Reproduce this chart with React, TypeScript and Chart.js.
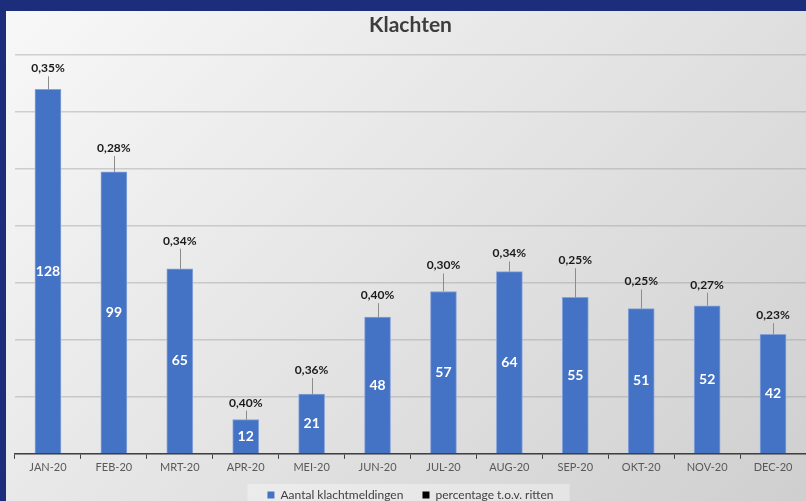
import React, { useEffect, useRef } from "react";
import { Chart, registerables } from "chart.js";

Chart.register(...registerables);

const months = ["JAN-20", "FEB-20", "MRT-20", "APR-20", "MEI-20", "JUN-20", "JUL-20", "AUG-20", "SEP-20", "OKT-20", "NOV-20", "DEC-20"];
const complaints = [128, 99, 65, 12, 21, 48, 57, 64, 55, 51, 52, 42];
const percentages = [0.35, 0.28, 0.34, 0.4, 0.36, 0.4, 0.3, 0.34, 0.25, 0.25, 0.27, 0.23];
const seriesNames = ["Aantal klachtmeldingen", "percentage t.o.v. ritten"];
const yMax = 140;
const yStep = 20;

// distance (px) of each percentage label above its bar (leader line length)
const labelLift = [21, 24, 28, 17, 24, 22, 26, 18, 37, 27, 21, 19];

const FONT = "Lato, 'Open Sans', sans-serif";

const fmtPct = (p: number) => p.toFixed(2).replace(".", ",") + "%";

const legendBackground = {
  id: "legendBackground",
  beforeDraw(chart: any) {
    const lg = chart.legend;
    if (!lg || !lg.legendHitBoxes || !lg.legendHitBoxes.length) return;
    const boxes = lg.legendHitBoxes;
    let l = Infinity, r = -Infinity, t = Infinity;
    boxes.forEach((b: any) => {
      l = Math.min(l, b.left);
      r = Math.max(r, b.left + b.width);
      t = Math.min(t, b.top);
    });
    const ctx = chart.ctx;
    ctx.save();
    ctx.fillStyle = "rgba(255,255,255,0.35)";
    ctx.fillRect(l - 20, t - 5, r - l + 36, chart.height - t + 5);
    ctx.restore();
  },
};

const barLabels = {
  id: "barLabels",
  afterDatasetsDraw(chart: any) {
    const ctx = chart.ctx;
    const meta = chart.getDatasetMeta(0);
    meta.data.forEach((bar: any, i: number) => {
      const { x, y, base } = bar.getProps(["x", "y", "base"], true);
      ctx.save();
      ctx.textAlign = "center";
      ctx.textBaseline = "middle";
      ctx.fillStyle = "#ffffff";
      ctx.font = `bold 14px ${FONT}`;
      ctx.fillText(String(complaints[i]), x, (y + base) / 2);

      const ly = y - labelLift[i];
      ctx.strokeStyle = "#8c8c8c";
      ctx.lineWidth = 1;
      ctx.beginPath();
      ctx.moveTo(Math.round(x) + 0.5, y);
      ctx.lineTo(Math.round(x) + 0.5, ly + 8);
      ctx.stroke();

      ctx.fillStyle = "#1a1a1a";
      ctx.font = `bold 12px ${FONT}`;
      ctx.fillText(fmtPct(percentages[i]), x, ly);
      ctx.restore();
    });
  },
};

export default function App() {
  const canvasRef = useRef<HTMLCanvasElement | null>(null);

  useEffect(() => {
    if (!canvasRef.current) return;
    const chart = new Chart(canvasRef.current, {
      type: "bar",
      data: {
        labels: months,
        datasets: [
          {
            type: "bar",
            label: seriesNames[0],
            data: complaints,
            backgroundColor: "#4472C4",
            borderColor: "#86a2d8",
            borderWidth: 1,
            barThickness: 26,
            yAxisID: "y",
            order: 1,
          },
          {
            type: "line",
            label: seriesNames[1],
            data: percentages,
            backgroundColor: "#000000",
            borderColor: "#000000",
            borderWidth: 0,
            showLine: false,
            pointRadius: 0,
            yAxisID: "y2",
            order: 0,
          } as any,
        ],
      },
      options: {
        responsive: false,
        animation: false,
        layout: { padding: { left: 9, right: 0, top: 0, bottom: 0 } },
        plugins: {
          tooltip: { enabled: false },
          title: {
            display: true,
            text: "Klachten",
            color: "#3d3d3d",
            font: { family: FONT, size: 21, weight: "bold" },
            padding: { top: 2, bottom: 17 },
          },
          legend: {
            position: "bottom",
            labels: {
              color: "#404040",
              font: { family: FONT, size: 12 },
              boxWidth: 7,
              boxHeight: 7,
              padding: 13,
              generateLabels: (chart: any) =>
                chart.data.datasets.map((ds: any, i: number) => ({
                  text: i === 0 ? ds.label + "  " : ds.label,
                  fillStyle: ds.backgroundColor,
                  strokeStyle: ds.backgroundColor,
                  lineWidth: 0,
                  hidden: false,
                  datasetIndex: i,
                  fontColor: "#404040",
                })),
            },
          },
        },
        scales: {
          x: {
            offset: true,
            grid: {
              display: true,
              offset: true,
              drawOnChartArea: false,
              drawTicks: true,
              tickLength: 5,
              color: "#404040",
            },
            border: { display: true, color: "#404040", width: 1.5 },
            ticks: {
              color: "#595959",
              font: { family: FONT, size: 11 },
              padding: 2,
              maxRotation: 0,
              autoSkip: false,
            },
          },
          y: {
            min: 0,
            max: yMax,
            ticks: { display: false, stepSize: yStep },
            grid: { color: "rgba(150,150,150,0.4)", lineWidth: 1.5, drawTicks: false },
            border: { display: false },
          },
          y2: {
            display: false,
            min: 0,
            max: 1,
          },
        },
      },
      plugins: [legendBackground, barLabels],
    });
    return () => chart.destroy();
  }, []);

  return (
    <div style={{ position: "fixed", left: 0, top: 0, width: 806, height: 501, background: "#1c2e7b", overflow: "hidden" }}>
      <div
        style={{
          position: "absolute",
          left: 6,
          top: 11,
          width: 800,
          height: 490,
          overflow: "hidden",
          background: "linear-gradient(135deg, #f8f8f8 0%, #e6e6e6 45%, #cfcfcf 100%)",
        }}
      >
        <canvas ref={canvasRef} width={800} height={500} style={{ display: "block" }} />
      </div>
    </div>
  );
}
